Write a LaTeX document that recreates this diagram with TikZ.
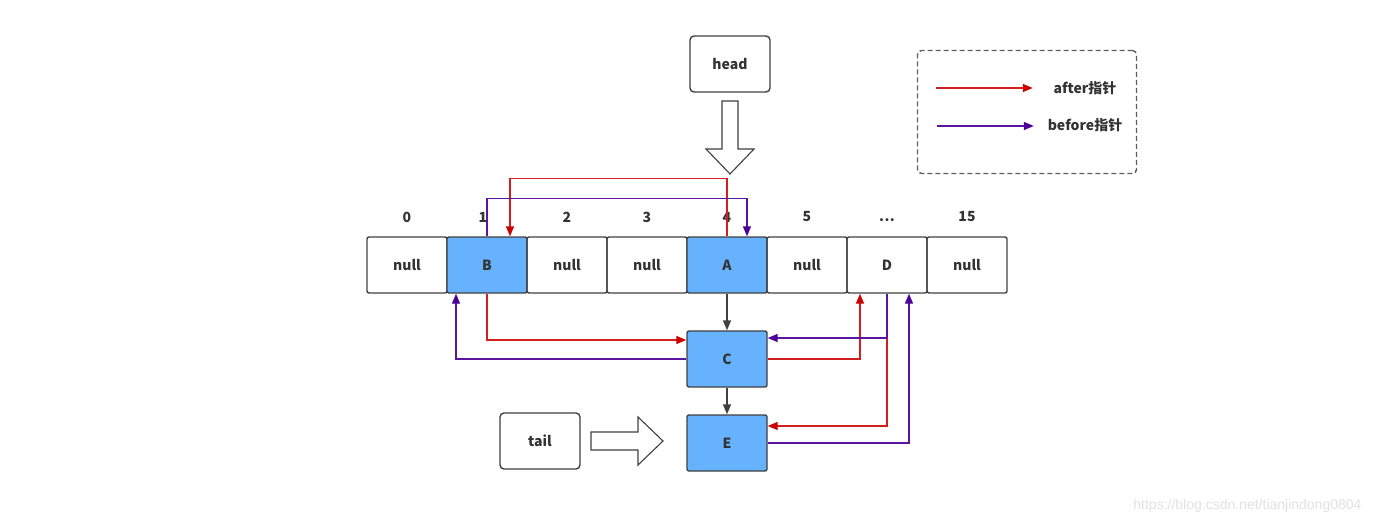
\documentclass[tikz,border=0pt]{standalone}
\usepackage{fontspec}
\setmainfont{Noto Sans CJK SC}
\newfontfamily\wmfont{Liberation Sans}
\usetikzlibrary{arrows.meta,calc}
\definecolor{txt}{RGB}{51,51,51}
\definecolor{bord}{RGB}{64,64,64}
\definecolor{fillblue}{RGB}{102,178,255}
\definecolor{redc}{RGB}{210,30,30}
\definecolor{redtip}{RGB}{204,0,0}
\definecolor{purc}{RGB}{90,20,160}
\definecolor{purtip}{RGB}{76,0,153}
\definecolor{wmgray}{RGB}{225,225,225}
\tikzset{
  base/.style={font=\fontsize{14}{16}\selectfont\bfseries, text=txt},
  cell/.style={base, draw=bord, line width=1.4pt, rounded corners=2pt, minimum width=80pt, minimum height=56pt, inner sep=0pt},
  bluecell/.style={cell, fill=fillblue},
  idx/.style={base},
  redline/.style={draw=redc, line width=1.4pt, -{Triangle[length=10pt,width=8pt,color=redtip]}},
  purline/.style={draw=purc, line width=1.4pt, -{Triangle[length=10pt,width=8pt,color=purtip]}},
  blkline/.style={draw=bord, line width=1.4pt, -{Triangle[length=10pt,width=8pt]}},
  hollow/.style={draw=bord, line width=1.1pt, fill=white},
  legendbox/.style={draw=bord!85, line width=1.4pt, dashed, dash pattern=on 5pt off 3pt, rounded corners=4pt, minimum width=219pt, minimum height=123pt},
}
\begin{document}
\begin{tikzpicture}[x=1pt,y=-1pt]
\useasboundingbox (0,0) rectangle (1374,524);
% array cells
\node[cell] (c0) at (407,265) {null};
\node[bluecell] (B) at (487,265) {B};
\node[cell] (c2) at (567,265) {null};
\node[cell] (c3) at (647,265) {null};
\node[bluecell] (A) at (727,265) {A};
\node[cell] (c5) at (807,265) {null};
\node[cell] (D) at (887,265) {D};
\node[cell] (c7) at (967,265) {null};
% indices
\node[idx] (i0) at (407,217) {0};
\node[idx] (i1) at (483,217) {1};
\node[idx] (i2) at (567,217) {2};
\node[idx] (i3) at (647,217) {3};
\node[idx] (i4) at (727,217) {4};
\node[idx] (i5) at (807,217) {5};
\node[idx, anchor=base] (i6) at (887,222) {.\kern0.5pt.\kern0.5pt.};
\node[idx] (i7) at (967,217) {15};
% chain nodes
\node[bluecell] (C) at (727,359) {C};
\node[bluecell] (E) at (727,443) {E};
\node[cell, rounded corners=4pt] (head) at (730,64) {head};
\node[cell, rounded corners=4pt] (tail) at (540,441) {tail};
% hollow arrows
\draw[hollow] (722,101) -- (738,101) -- (738,149) -- (754,149) -- (730,174) -- (706,149) -- (722,149) -- cycle;
\draw[hollow] (591,432) -- (638,432) -- (638,417) -- (663,441) -- (638,465) -- (638,450) -- (591,450) -- cycle;
% top connectors
\draw[redline] (A.north) -- ++(0,-58) -| ($(B.north)+(23,0)$);
\draw[purline] (B.north) -- ++(0,-38) -| ($(A.north)+(20,0)$);
% black chain
\draw[blkline] (A.south) -- (C.north);
\draw[blkline] (C.south) -- (E.north);
% left connectors
\draw[redline] (B.south) |- ($(C.west)+(0,-19)$);
\draw[purline] (C.west) -| ($(B.south)+(-31,0)$);
% right connectors
\draw[redline] (C.east) -| ($(D.south)+(-27,0)$);
\draw[redline] (D.south) |- ($(E.east)+(0,-17)$);
\draw[purline] (D.south) |- ($(C.east)+(0,-21)$);
\draw[purline] (E.east) -| ($(D.south)+(22,0)$);
% legend
\node[legendbox] (leg) at (1027,112) {};
\coordinate (la1) at ($(leg.west)+(19,-24)$);
\coordinate (la2) at ($(leg.west)+(116,-24)$);
\coordinate (lb1) at ($(leg.west)+(20,14)$);
\coordinate (lb2) at ($(leg.west)+(117,14)$);
\draw[redline] (la1) -- (la2);
\draw[purline] (lb1) -- (lb2);
\node[base] (lta) at (1085,88) {after指针};
\node[base] (ltb) at (1085,125) {before指针};
% watermark
\node[font=\wmfont\fontsize{14}{16}\selectfont, text=wmgray, anchor=east] (wm) at (1365,506) {https://blog.csdn.net/tianjindong0804};
\end{tikzpicture}
\end{document}
